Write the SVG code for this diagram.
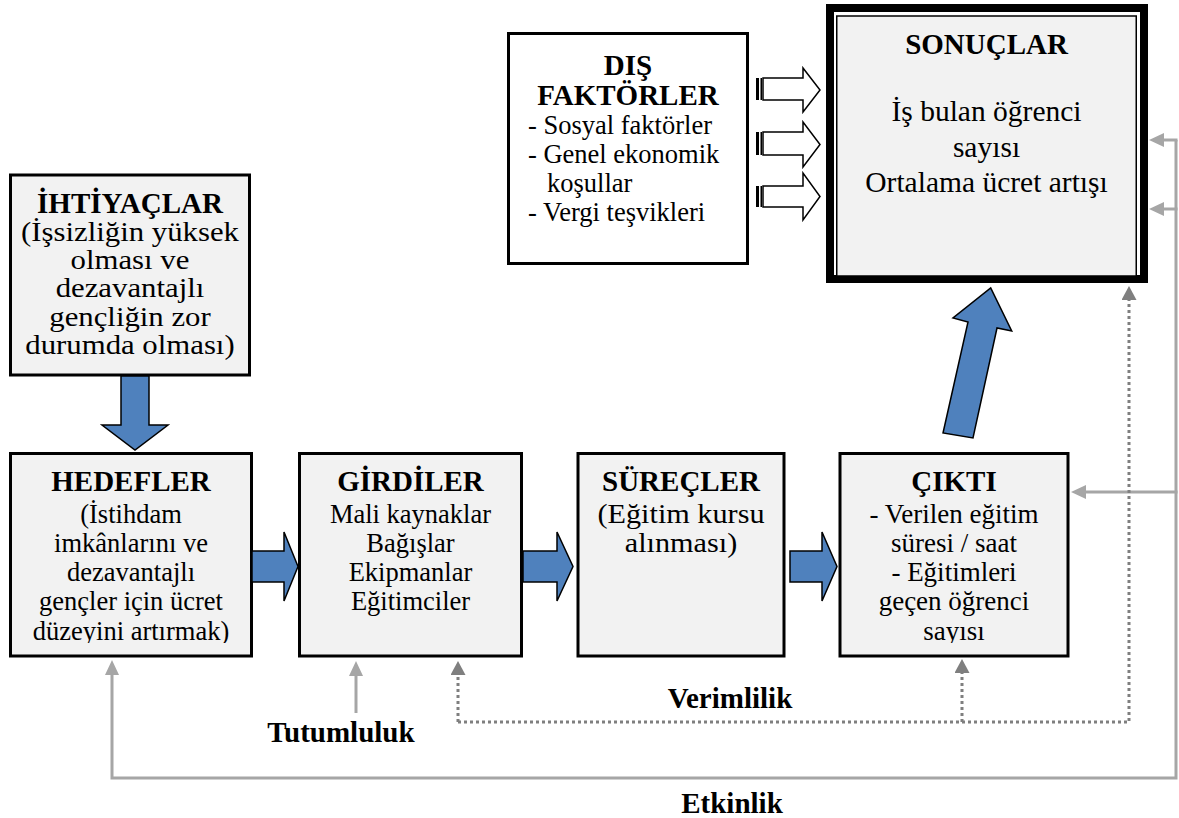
<svg xmlns="http://www.w3.org/2000/svg" width="1179" height="818" viewBox="0 0 1179 818">
<style>
.box{fill:#f2f2f2;stroke:#000;stroke-width:3}
.wbox{fill:#fff;stroke:#000;stroke-width:3}
text{font-family:"Liberation Serif","Times New Roman",serif;fill:#000}
.h{font-weight:bold;font-size:29px;text-anchor:middle}
.b{font-size:26.5px;text-anchor:middle}
.bw{font-size:27px;text-anchor:middle}
.bl{font-size:26.5px}
.blue{fill:#4f81bd;stroke:#000;stroke-width:1.5;stroke-linejoin:miter}
.hol{fill:#fff;stroke:#000;stroke-width:1.5}
.g{fill:none;stroke:#a6a6a6;stroke-width:3}
.d{fill:none;stroke:#7f7f7f;stroke-width:3;stroke-dasharray:3 3}
</style>
<defs>
<marker id="ag" viewBox="0 0 15 14" refX="0" refY="7" markerWidth="15" markerHeight="14" markerUnits="userSpaceOnUse" orient="auto"><path d="M0,0 L15,7 L0,14 z" fill="#a6a6a6"/></marker>
<marker id="ad" viewBox="0 0 14 15" refX="0" refY="7.5" markerWidth="14" markerHeight="15" markerUnits="userSpaceOnUse" orient="auto"><path d="M0,0 L14,7.5 L0,15 z" fill="#7f7f7f"/></marker>
<clipPath id="clipH"><rect x="0" y="440" width="1179" height="203"/></clipPath>
</defs>
<rect width="1179" height="818" fill="#fff"/>

<g id="ihtiyaclar">
<rect class="box" x="10.5" y="175" width="239" height="200"/>
<text class="h" x="130" y="213">İHTİYAÇLAR</text>
<g transform="translate(130,0) scale(1.14,1) translate(-130,0)">
<text class="bw" x="130" y="241">(İşsizliğin yüksek</text>
<text class="bw" x="130" y="269">olması ve</text>
<text class="bw" x="130" y="297">dezavantajlı</text>
<text class="bw" x="130" y="326">gençliğin zor</text>
<text class="bw" x="130" y="354">durumda olması)</text>
</g>
</g>

<g id="hedefler">
<rect class="box" x="10.5" y="453.5" width="241" height="202.5"/>
<text class="h" x="131" y="491">HEDEFLER</text>
<g clip-path="url(#clipH)">
<text class="b" x="131" y="523">(İstihdam</text>
<text class="b" x="131" y="552">imkânlarını ve</text>
<text class="b" x="131" y="581">dezavantajlı</text>
<text class="b" x="131" y="610">gençler için ücret</text>
<text class="b" x="131" y="640">düzeyini artırmak)</text>
</g>
</g>

<g id="girdiler">
<rect class="box" x="299.5" y="453.5" width="222" height="202.5"/>
<text class="h" x="410.5" y="491">GİRDİLER</text>
<text class="b" x="410.5" y="523">Mali kaynaklar</text>
<text class="b" x="410.5" y="552">Bağışlar</text>
<text class="b" x="410.5" y="581">Ekipmanlar</text>
<text class="b" x="410.5" y="610">Eğitimciler</text>
</g>

<g id="surecler">
<rect class="box" x="578" y="453.5" width="206" height="202.5"/>
<text class="h" x="681" y="491">SÜREÇLER</text>
<g transform="translate(681,0) scale(1.12,1) translate(-681,0)">
<text class="bw" x="681" y="523">(Eğitim kursu</text>
<text class="bw" x="681" y="552">alınması)</text>
</g>
</g>

<g id="cikti">
<rect class="box" x="840" y="453.5" width="228" height="202.5"/>
<text class="h" x="954" y="491">ÇIKTI</text>
<g clip-path="url(#clipH)">
<text class="bw" x="954" y="523">- Verilen eğitim</text>
<text class="bw" x="954" y="552">süresi / saat</text>
<text class="bw" x="954" y="581">- Eğitimleri</text>
<text class="bw" x="954" y="610">geçen öğrenci</text>
<text class="bw" x="954" y="640">sayısı</text>
</g>
</g>

<g id="dis-faktorler">
<rect class="wbox" x="508.5" y="33.5" width="239" height="230"/>
<text class="h" x="628" y="75">DIŞ</text>
<text class="h" x="628" y="105">FAKTÖRLER</text>
<text class="bl" x="528" y="134">- Sosyal faktörler</text>
<text class="bl" x="528" y="163">- Genel ekonomik</text>
<text class="bl" x="547" y="192">koşullar</text>
<text class="bl" x="528" y="221">- Vergi teşvikleri</text>
</g>

<g id="sonuclar">
<rect x="830" y="8" width="314" height="271" fill="#fff" stroke="#000" stroke-width="8"/>
<rect x="836.75" y="16" width="299.5" height="260" fill="#f2f2f2" stroke="#000" stroke-width="1.5"/>
<text class="h" x="986.5" y="54">SONUÇLAR</text>
<text class="b" style="font-size:29.5px" x="986.5" y="121">İş bulan öğrenci</text>
<text class="b" style="font-size:29.5px" x="986.5" y="157">sayısı</text>
<text class="b" style="font-size:29.5px" x="986.5" y="192">Ortalama ücret artışı</text>
</g>

<g id="connectors">
<path class="blue" d="M121,376 H149 V425 H168 L135,450 L102,425 H121 Z"/>
<path class="blue" d="M252,551 H284 V532 L298,566.5 L284,601 V582 H252 Z"/>
<path class="blue" d="M523,551 H557 V532 L573,566.5 L557,601 V582 H523 Z"/>
<path class="blue" d="M790,551 H822 V532 L837,566.5 L822,601 V582 H790 Z"/>
<path class="blue" d="M943,433 L968,322 L953,318 L990.7,288 L1011.7,331 L997,328 L973,438 Z"/>

<rect x="756" y="78" width="3" height="22" fill="#000"/><rect x="760.5" y="78" width="1.5" height="22" fill="#000"/>
<path class="hol" d="M763,78 H803 V68 L820,90 L803,112 V100 H763 Z"/>
<rect x="756" y="132" width="3" height="23" fill="#000"/><rect x="760.5" y="132" width="1.5" height="23" fill="#000"/>
<path class="hol" d="M763,132 H803 V122 L820,144.5 L803,167 V155 H763 Z"/>
<rect x="756" y="186" width="3" height="21" fill="#000"/><rect x="760.5" y="186" width="1.5" height="21" fill="#000"/>
<path class="hol" d="M763,186 H803 V173 L820,196.5 L803,220 V207 H763 Z"/>

<path class="g" d="M1176,140 V778 H112 V675" marker-end="url(#ag)"/>
<path class="g" d="M1177.5,140 H1164" marker-end="url(#ag)"/>
<path class="g" d="M1177.5,209 H1164" marker-end="url(#ag)"/>
<path class="g" d="M1177.5,492 H1086" marker-end="url(#ag)"/>
<path class="g" d="M356,713 V676" marker-end="url(#ag)"/>

<path class="d" d="M458,722 H1129 V300" marker-end="url(#ad)"/>
<path class="d" d="M458,722 V675" marker-end="url(#ad)"/>
<path class="d" d="M962,722 V673" marker-end="url(#ad)"/>

<text class="h" x="730" y="708">Verimlilik</text>
<text class="h" x="341" y="742">Tutumluluk</text>
<text class="h" x="732" y="813">Etkinlik</text>
</g>
</svg>
